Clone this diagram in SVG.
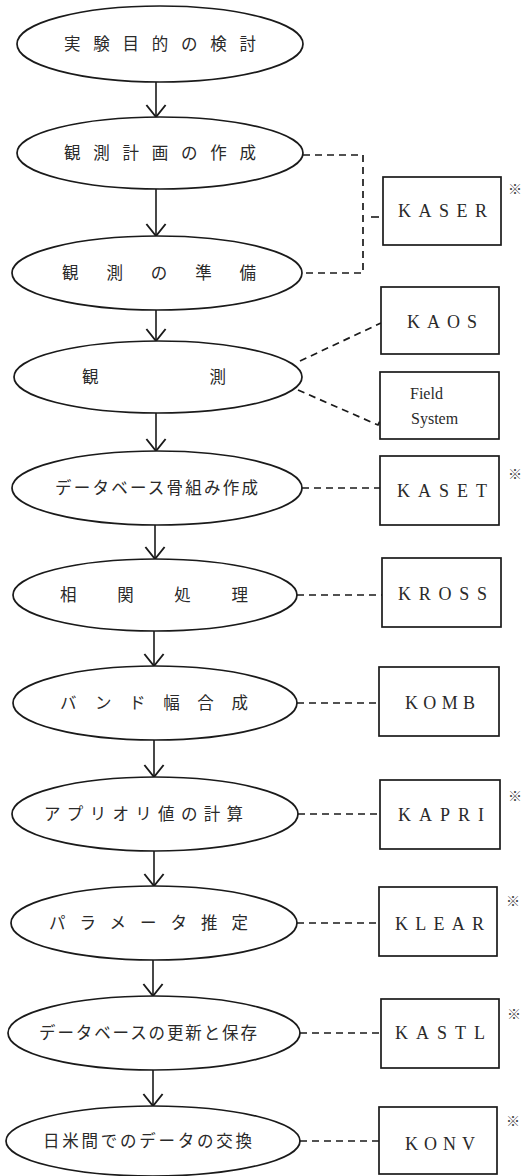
<svg xmlns="http://www.w3.org/2000/svg" width="523" height="1176" viewBox="0 0 523 1176">
<style>
.el{fill:#fff;stroke:#1a1a1a;stroke-width:1.7}
.bx{fill:#fff;stroke:#1a1a1a;stroke-width:1.7}
.ar{fill:none;stroke:#1a1a1a;stroke-width:1.6}
.da{fill:none;stroke:#1a1a1a;stroke-width:1.7;stroke-dasharray:7 5}
.jt{font-family:"Noto Sans CJK JP","Noto Sans",sans-serif;font-size:16.5px;fill:#2a2a2a}
.bt{font-family:"Liberation Serif",serif;font-size:18px;fill:#2a2a2a}
.ft{font-family:"Liberation Serif",serif;font-size:16px;fill:#2a2a2a}
.ast{font-family:"Noto Sans CJK JP",sans-serif;font-size:14px;fill:#444}
</style>
<defs>
<marker id="ah" markerUnits="userSpaceOnUse" markerWidth="24" markerHeight="24" viewBox="-12 -10 14 20" refX="0" refY="0" orient="auto">
<path d="M-10,-8 L0,0 L-10,8" fill="none" stroke="#1a1a1a" stroke-width="1.6"/>
</marker>
</defs>
<g id="connectors">
<line class="ar" x1="156" y1="82" x2="156" y2="117" marker-end="url(#ah)"/>
<line class="ar" x1="156" y1="189" x2="156" y2="236" marker-end="url(#ah)"/>
<line class="ar" x1="156" y1="310" x2="156" y2="341" marker-end="url(#ah)"/>
<line class="ar" x1="156" y1="413" x2="156" y2="451" marker-end="url(#ah)"/>
<line class="ar" x1="155" y1="525" x2="155" y2="559" marker-end="url(#ah)"/>
<line class="ar" x1="154" y1="631" x2="154" y2="666" marker-end="url(#ah)"/>
<line class="ar" x1="154" y1="740" x2="154" y2="777" marker-end="url(#ah)"/>
<line class="ar" x1="154" y1="851" x2="154" y2="886" marker-end="url(#ah)"/>
<line class="ar" x1="153" y1="960" x2="153" y2="996" marker-end="url(#ah)"/>
<line class="ar" x1="153" y1="1070" x2="153" y2="1106" marker-end="url(#ah)"/>
<path class="da" d="M303,155 H363 V273 H302"/>
<line class="ar" x1="371" y1="217" x2="379" y2="217"/>
<line class="da" x1="300" y1="361" x2="381" y2="323"/>
<path class="da" d="M298,390 L378,425 L380,421"/>
<line class="da" x1="302" y1="488" x2="380" y2="488"/>
<line class="da" x1="297" y1="595" x2="382" y2="595"/>
<line class="da" x1="297" y1="703" x2="379" y2="703"/>
<line class="da" x1="298" y1="814" x2="380" y2="814"/>
<line class="da" x1="297" y1="923" x2="379" y2="923"/>
<line class="da" x1="300" y1="1033" x2="381" y2="1033"/>
<line class="da" x1="300" y1="1141" x2="379" y2="1141"/>
</g>
<g id="n1"><ellipse class="el" cx="160" cy="44" rx="143" ry="38"/><text class="jt" x="64" y="50" textLength="192" lengthAdjust="spacing">実験目的の検討</text></g>
<g id="n2"><ellipse class="el" cx="160" cy="153" rx="143" ry="36"/><text class="jt" x="64" y="159" textLength="192" lengthAdjust="spacing">観測計画の作成</text></g>
<g id="n3"><ellipse class="el" cx="157" cy="273" rx="145" ry="37"/><text class="jt" x="62" y="279" textLength="194" lengthAdjust="spacing">観測の準備</text></g>
<g id="n4"><ellipse class="el" cx="158" cy="377" rx="144" ry="36"/><text class="jt" x="82" y="383" textLength="144" lengthAdjust="spacing">観測</text></g>
<g id="n5"><ellipse class="el" cx="157" cy="488" rx="145" ry="37"/><text class="jt" x="55" y="494" textLength="203" lengthAdjust="spacing">データベース骨組み作成</text></g>
<g id="n6"><ellipse class="el" cx="155" cy="595" rx="142" ry="36"/><text class="jt" x="60" y="601" textLength="188" lengthAdjust="spacing">相関処理</text></g>
<g id="n7"><ellipse class="el" cx="155" cy="703" rx="142" ry="37"/><text class="jt" x="60" y="709" textLength="188" lengthAdjust="spacing">バンド幅合成</text></g>
<g id="n8"><ellipse class="el" cx="155" cy="814" rx="143" ry="37"/><text class="jt" x="44" y="820" textLength="199" lengthAdjust="spacing">アプリオリ値の計算</text></g>
<g id="n9"><ellipse class="el" cx="154" cy="923" rx="143" ry="37"/><text class="jt" x="49" y="929" textLength="199" lengthAdjust="spacing">パラメータ推定</text></g>
<g id="n10"><ellipse class="el" cx="154" cy="1033" rx="146" ry="37"/><text class="jt" x="39" y="1039" textLength="218" lengthAdjust="spacing">データベースの更新と保存</text></g>
<g id="n11"><ellipse class="el" cx="153" cy="1141" rx="147" ry="35"/><text class="jt" x="43" y="1147" textLength="209" lengthAdjust="spacing">日米間でのデータの交換</text></g>
<g id="b-kaser"><rect class="bx" x="383" y="177" width="118" height="68"/><text class="bt" x="398" y="217" textLength="89" lengthAdjust="spacing">KASER</text><text class="ast" x="508" y="194">※</text></g>
<g id="b-kaos"><rect class="bx" x="381" y="287" width="118" height="67"/><text class="bt" x="407" y="328" textLength="70" lengthAdjust="spacing">KAOS</text></g>
<g id="b-field"><rect class="bx" x="380" y="372" width="119" height="67"/><text class="ft" x="410" y="399">Field</text><text class="ft" x="411" y="424">System</text></g>
<g id="b-kaset"><rect class="bx" x="380" y="456" width="119" height="69"/><text class="bt" x="397" y="497" textLength="90" lengthAdjust="spacing">KASET</text><text class="ast" x="508" y="479">※</text></g>
<g id="b-kross"><rect class="bx" x="382" y="558" width="119" height="69"/><text class="bt" x="398" y="600" textLength="89" lengthAdjust="spacing">KROSS</text></g>
<g id="b-komb"><rect class="bx" x="379" y="667" width="120" height="69"/><text class="bt" x="405" y="709" textLength="70" lengthAdjust="spacing">KOMB</text></g>
<g id="b-kapri"><rect class="bx" x="380" y="780" width="120" height="69"/><text class="bt" x="398" y="821" textLength="86" lengthAdjust="spacing">KAPRI</text><text class="ast" x="508" y="801">※</text></g>
<g id="b-klear"><rect class="bx" x="379" y="887" width="118" height="69"/><text class="bt" x="395" y="930" textLength="89" lengthAdjust="spacing">KLEAR</text><text class="ast" x="506" y="906">※</text></g>
<g id="b-kastl"><rect class="bx" x="381" y="999" width="118" height="69"/><text class="bt" x="395" y="1039" textLength="90" lengthAdjust="spacing">KASTL</text><text class="ast" x="507" y="1019">※</text></g>
<g id="b-konv"><rect class="bx" x="379" y="1107" width="118" height="67"/><text class="bt" x="405" y="1150" textLength="70" lengthAdjust="spacing">KONV</text><text class="ast" x="506" y="1126">※</text></g>
</svg>
